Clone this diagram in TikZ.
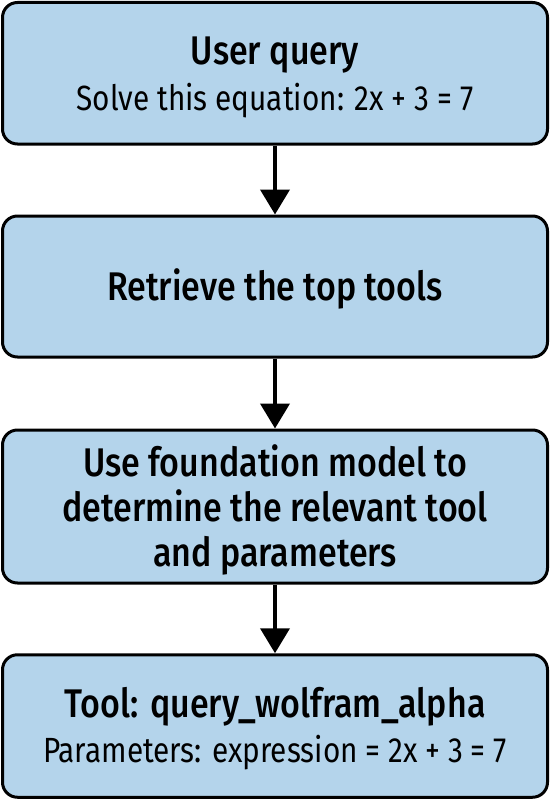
\documentclass[tikz,border=0pt]{standalone}
\usepackage{fontspec}
\setmainfont{Fira Sans}[FakeStretch=0.85, BoldFont={Fira Sans Medium}, BoldFeatures={FakeStretch=0.85}]
\usetikzlibrary{arrows.meta}
\definecolor{boxfill}{RGB}{180,212,235}
\tikzset{
  flowbox/.style={draw=black, line width=3pt, fill=boxfill, rounded corners=15pt,
    minimum width=545pt, inner sep=0pt},
  flowarrow/.style={line width=4pt, -{Triangle[width=29pt,length=25pt]}},
  headtxt/.style={anchor=base, inner sep=0pt, text=black, font=\fontsize{40}{45}\selectfont\bfseries},
  subtxt/.style={anchor=base, inner sep=0pt, text=black, font=\fontsize{35}{45}\selectfont},
}
\begin{document}
\begin{tikzpicture}[x=1pt,y=1pt]
\useasboundingbox (0,0) rectangle (550,-800);
\node[flowbox, minimum height=141.5pt] (b1) at (275,-73.25) {};
\node[flowbox, minimum height=141pt] (b2) at (275,-286.5) {};
\node[flowbox, minimum height=153pt] (b3) at (275,-506.5) {};
\node[flowbox, minimum height=142.5pt] (b4) at (275,-726) {};
\node[headtxt] (t1a) at (275,-65) {User query};
\node[subtxt] (t1b) at (275,-110) {Solve this equation: 2x + 3 = 7};
\node[headtxt] (t2) at (275,-300) {Retrieve the top tools};
\node[headtxt] (t3a) at (275,-476) {Use foundation model to};
\node[headtxt] (t3b) at (275,-521) {determine the relevant tool};
\node[headtxt] (t3c) at (275,-566) {and parameters};
\node[headtxt] (t4a) at (275,-717) {Tool: query\_wolfram\_alpha};
\node[subtxt] (t4b) at (275,-762) {Parameters: expression = 2x + 3 = 7};
\draw[flowarrow] (b1.south) -- (b2.north);
\draw[flowarrow] (b2.south) -- (b3.north);
\draw[flowarrow] (b3.south) -- (b4.north);
\end{tikzpicture}
\end{document}
